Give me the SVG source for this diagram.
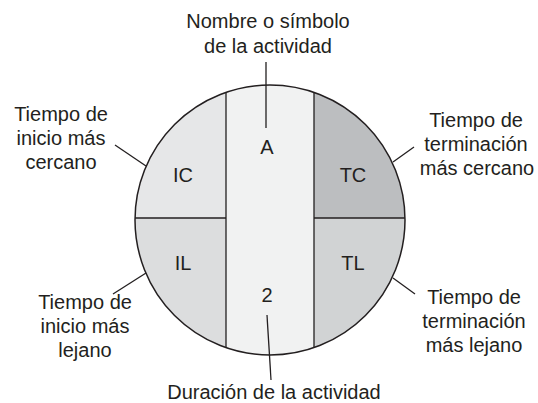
<svg xmlns="http://www.w3.org/2000/svg" width="538" height="403" viewBox="0 0 538 403">
<style>
text{font-family:"Liberation Sans",Arial,sans-serif;font-size:20px;fill:#231f20;text-anchor:middle}
.div{stroke:#231f20;stroke-width:1.3;fill:none}
.con{stroke:#231f20;stroke-width:1.3;fill:none}
</style>
<defs>
<clipPath id="cc"><circle cx="270" cy="220" r="135"/></clipPath>
</defs>
<rect width="538" height="403" fill="#ffffff"/>
<g id="circle">
<g clip-path="url(#cc)">
<rect id="reg-IC" x="130" y="80" width="96" height="138" fill="#e6e7e8"/>
<rect id="reg-IL" x="130" y="218" width="96" height="142" fill="#dcddde"/>
<rect id="reg-mid" x="226" y="80" width="88" height="280" fill="#f1f2f2"/>
<rect id="reg-TC" x="314" y="80" width="96" height="138" fill="#bcbec0"/>
<rect id="reg-TL" x="314" y="218" width="96" height="142" fill="#d1d3d4"/>
<line class="div" x1="226" y1="80" x2="226" y2="360"/>
<line class="div" x1="314" y1="80" x2="314" y2="360"/>
<line class="div" x1="130" y1="218" x2="226" y2="218"/>
<line class="div" x1="314" y1="218" x2="410" y2="218"/>
</g>
<circle cx="270" cy="220" r="135" fill="none" stroke="#231f20" stroke-width="1.5"/>
</g>
<g id="node-A"><text x="267" y="154">A</text></g>
<g id="node-IC"><text x="183" y="182">IC</text></g>
<g id="node-TC"><text x="353" y="182">TC</text></g>
<g id="node-IL"><text x="183" y="270">IL</text></g>
<g id="node-TL"><text x="353" y="270">TL</text></g>
<g id="node-2"><text x="267" y="302">2</text></g>
<g id="label-top"><text x="268" y="28">Nombre o símbolo</text><text x="268" y="53">de la actividad</text></g>
<g id="label-bottom"><text x="274" y="399">Duración de la actividad</text></g>
<g id="label-IC"><text x="61" y="121">Tiempo de</text><text x="61" y="145">inicio más</text><text x="61" y="169">cercano</text></g>
<g id="label-IL"><text x="85" y="309">Tiempo de</text><text x="85" y="333">inicio más</text><text x="85" y="357">lejano</text></g>
<g id="label-TC"><text x="476" y="127">Tiempo de</text><text x="476" y="151">terminación</text><text x="477" y="175">más cercano</text></g>
<g id="label-TL"><text x="474" y="304">Tiempo de</text><text x="474" y="328">terminación</text><text x="474" y="352">más lejano</text></g>
<g id="connectors">
<line class="con" x1="266" y1="62" x2="266" y2="128"/>
<line class="con" x1="267" y1="315" x2="271" y2="380"/>
<line class="con" x1="115" y1="145" x2="146" y2="166"/>
<line class="con" x1="113" y1="294" x2="146" y2="273"/>
<line class="con" x1="414" y1="147" x2="393" y2="162"/>
<line class="con" x1="415" y1="294" x2="393" y2="278"/>
</g>
</svg>
